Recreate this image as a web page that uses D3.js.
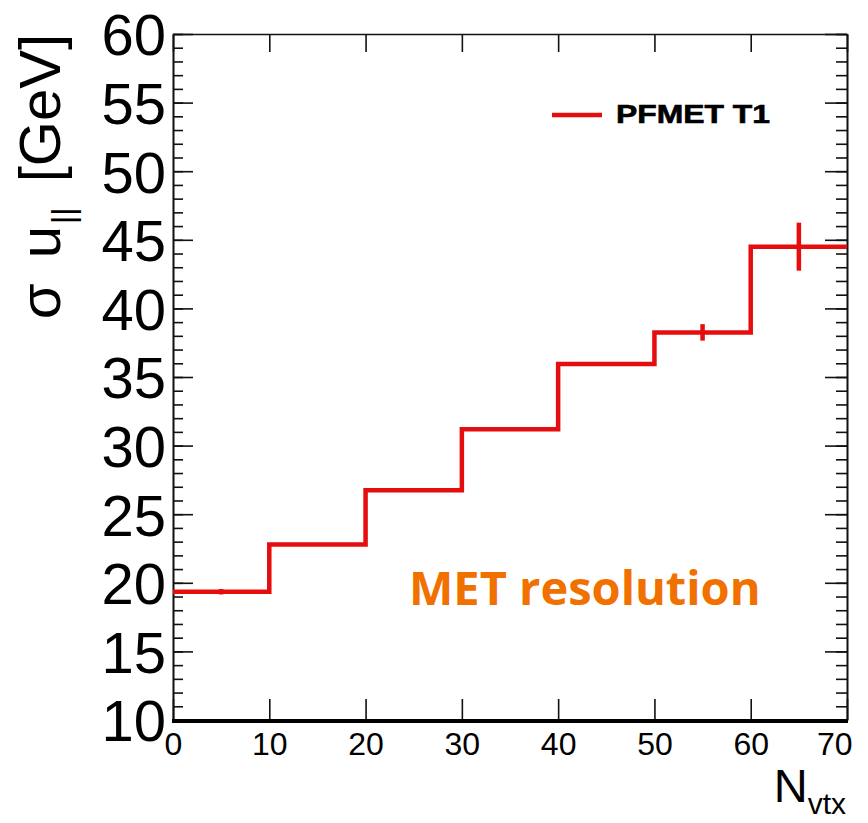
<!DOCTYPE html>
<html>
<head>
<meta charset="utf-8">
<script src="https://cdn.jsdelivr.net/npm/d3@7"></script>
<style>
  body { margin: 0; background: #fff; }
  svg { display: block; }
</style>
</head>
<body>
<svg id="chart"></svg>
<script>
// histogram data: N_vtx bins and sigma u_|| values (GeV)
const binEdges = [0, 10, 20, 30, 40, 50, 60, 70];
const sigmaValues = [19.35, 22.8, 26.75, 31.2, 35.95, 38.25, 44.5];
const sigmaErrors = [0.2, 0.1, 0.1, 0.1, 0.1, 0.6, 1.75];
const xTicks = [0, 10, 20, 30, 40, 50, 60, 70];
const yTicks = [10, 15, 20, 25, 30, 35, 40, 45, 50, 55, 60];
const legendLabel = "PFMET T1";

const width = 868;
const height = 823;
const padLeft = 173;
const padRight = 847;
const padTop = 34;
const padBottom = 720;
const red = "#e50d0d";

const svg = d3.select("#chart").attr("width", width).attr("height", height);

const xScale = d3.scaleLinear().domain([0, 70]).range([padLeft, padRight]);
const yScale = d3.scaleLinear().domain([10, 60]).range([padBottom, padTop]);

// axes (ROOT style, ticks inside the frame)
const drawAxes = () => {
  // minor y ticks
  svg.append("g")
    .attr("transform", "translate(" + padLeft + ",0)")
    .call(d3.axisLeft(yScale).tickValues(d3.range(10, 61, 1)).tickSize(-10).tickSizeOuter(0).tickFormat(""));
  svg.append("g")
    .attr("transform", "translate(" + padRight + ",0)")
    .call(d3.axisRight(yScale).tickValues(d3.range(10, 61, 1)).tickSize(-11).tickSizeOuter(0).tickFormat(""));

  // major y ticks + labels
  svg.append("g")
    .attr("class", "y-axis")
    .attr("transform", "translate(" + padLeft + ",0)")
    .call(d3.axisLeft(yScale).tickValues(yTicks).tickSize(-20).tickSizeOuter(0).tickPadding(7));
  svg.append("g")
    .attr("transform", "translate(" + padRight + ",0)")
    .call(d3.axisRight(yScale).tickValues(yTicks).tickSize(-22).tickSizeOuter(0).tickFormat(""));

  // x ticks
  svg.append("g")
    .attr("class", "x-axis")
    .attr("transform", "translate(0," + padBottom + ")")
    .call(d3.axisBottom(xScale).tickValues(xTicks).tickSize(-21).tickSizeOuter(0).tickPadding(12));
  svg.append("g")
    .attr("transform", "translate(0," + padTop + ")")
    .call(d3.axisTop(xScale).tickValues(xTicks).tickSize(-18).tickSizeOuter(0).tickFormat(""));

  svg.selectAll(".domain, .tick line").attr("stroke", "#111").attr("stroke-width", 1.6);

  svg.selectAll(".y-axis text")
    .attr("font-family", "'Liberation Sans', Arial, sans-serif")
    .attr("font-size", 58)
    .attr("fill", "#000")
    .attr("dy", "0.36em");

  svg.selectAll(".x-axis text")
    .attr("font-family", "'Liberation Sans', Arial, sans-serif")
    .attr("font-size", 32)
    .attr("fill", "#000");
  // last label is pulled in like ROOT does
  svg.selectAll(".x-axis .tick").filter((d) => d === 70).select("text")
    .attr("text-anchor", "end").attr("x", 5);

  // thick bottom frame line
  svg.append("line")
    .attr("x1", padLeft - 1).attr("x2", padRight + 1)
    .attr("y1", padBottom + 1).attr("y2", padBottom + 1)
    .attr("stroke", "#000").attr("stroke-width", 4);
};

const drawHisto = () => {
  let pts = [];
  sigmaValues.forEach((v, i) => {
    pts.push([binEdges[i], v]);
    pts.push([binEdges[i + 1], v]);
  });
  const line = d3.line().x((d) => xScale(d[0])).y((d) => yScale(d[1]));
  svg.append("path")
    .attr("d", line(pts))
    .attr("fill", "none")
    .attr("stroke", red)
    .attr("stroke-width", 4.5)
    .attr("stroke-linejoin", "miter")
    .attr("stroke-linecap", "butt");

  // error bars at bin centres
  svg.selectAll(".err")
    .data(sigmaValues)
    .enter()
    .append("line")
    .attr("class", "err")
    .attr("x1", (d, i) => xScale((binEdges[i] + binEdges[i + 1]) / 2))
    .attr("x2", (d, i) => xScale((binEdges[i] + binEdges[i + 1]) / 2))
    .attr("y1", (d, i) => yScale(d + sigmaErrors[i]))
    .attr("y2", (d, i) => yScale(d - sigmaErrors[i]))
    .attr("stroke", red)
    .attr("stroke-width", 4.5);
};

const drawText = () => {
  // y title
  const yt = svg.append("text")
    .attr("transform", "translate(60," + padTop + ") rotate(-90)")
    .attr("text-anchor", "end")
    .attr("font-family", "'Liberation Sans', Arial, sans-serif")
    .attr("font-size", 58)
    .attr("word-spacing", 9)
    .attr("fill", "#000");
  yt.append("tspan").text("σ u");
  yt.append("tspan").attr("font-size", 32).attr("dy", 14).attr("dx", 2).text("||");
  yt.append("tspan").attr("dy", -14).text(" [GeV]");

  // x title
  const xt = svg.append("text")
    .attr("x", 846).attr("y", 802)
    .attr("text-anchor", "end")
    .attr("font-family", "'Liberation Sans', Arial, sans-serif")
    .attr("font-size", 47)
    .attr("fill", "#000");
  xt.append("tspan").text("N");
  xt.append("tspan").attr("font-size", 30).attr("dy", 12).text("vtx");

  // legend
  svg.append("line")
    .attr("x1", 552).attr("x2", 602)
    .attr("y1", 115).attr("y2", 115)
    .attr("stroke", red).attr("stroke-width", 4.5);
  svg.append("text")
    .attr("x", 616).attr("y", 123)
    .attr("font-family", "'Liberation Sans', Arial, sans-serif")
    .attr("font-weight", "bold")
    .attr("font-size", 25)
    .attr("textLength", 154)
    .attr("lengthAdjust", "spacingAndGlyphs")
    .attr("stroke", "#000")
    .attr("stroke-width", 0.6)
    .attr("fill", "#000")
    .text(legendLabel);

  // annotation
  svg.append("text")
    .attr("x", 409).attr("y", 605)
    .attr("font-family", "'Open Sans', sans-serif")
    .attr("font-weight", "bold")
    .attr("font-size", 47)
    .attr("fill", "#f07000")
    .text("MET resolution");
};

drawAxes();
drawHisto();
drawText();
</script>
</body>
</html>
